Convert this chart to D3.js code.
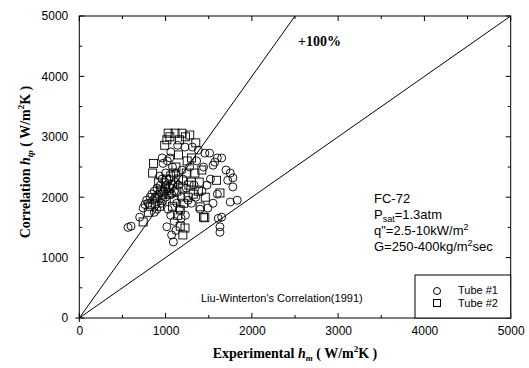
<!DOCTYPE html>
<html><head><meta charset="utf-8">
<script src="https://cdn.jsdelivr.net/npm/d3@7"></script>
<style>body{margin:0;background:#fff}</style>
</head><body>
<svg id="c" width="529" height="368"></svg>
<script>
const xTicks=[0,1000,2000,3000,4000,5000];
const yTicks=[0,1000,2000,3000,4000,5000];
const tube1=[[565,1500],[600,1520],[700,1670],[740,1820],[760,1880],[780,1950],[800,1900],[820,2000],[840,2050],[850,1950],[870,2100],[880,2000],[900,2150],[900,1800],[920,2050],[940,2200],[950,1900],[960,2300],[970,2560],[980,2100],[1000,2400],[1000,2000],[1010,2200],[1020,2600],[1030,1800],[1040,2300],[1050,2650],[1060,1700],[1070,1375],[1080,2500],[1090,1260],[1100,2100],[1100,1600],[1120,2400],[1130,1900],[1140,2860],[1150,2200],[1160,1800],[1180,2000],[1200,2300],[1225,2830],[1240,2150],[1260,1950],[1280,2500],[1310,2830],[1330,2200],[1350,2000],[1380,2780],[1400,1800],[1420,2100],[1455,2730],[1490,1820],[1510,2730],[1520,2300],[1550,2530],[1550,1900],[1570,2580],[1600,2650],[1610,1650],[1630,1510],[1630,1420],[1650,1670],[1720,2280],[1750,2400],[1750,1920],[1780,2320],[1780,2170],[1830,1950],[1015,1510],[1060,2750],[1020,2100],[960,2650],[1650,2650],[1700,2450],[930,2350],[990,2250],[1070,2050],[1110,2250],[1190,2450],[1230,1700],[1300,1900],[1360,2600],[1440,2500],[1480,2200],[870,1750],[1120,1450],[1180,1650],[1600,2050]];
const tube2=[[740,1590],[800,1750],[820,1850],[850,2400],[860,2560],[880,1900],[900,2000],[920,2250],[940,2100],[960,1950],[990,2860],[1000,2150],[1015,2950],[1030,3060],[1040,2050],[1050,3000],[1060,2350],[1080,2200],[1100,1950],[1110,3060],[1120,2500],[1140,1700],[1150,2300],[1170,1790],[1170,1520],[1190,3060],[1200,1375],[1200,2150],[1225,1490],[1240,2400],[1260,2000],[1280,3030],[1300,2250],[1320,2050],[1350,2900],[1380,2100],[1400,1840],[1420,2450],[1440,1670],[1455,1660],[1590,2280],[1630,2070],[1250,2600],[1150,2700],[1300,2650],[970,2050],[1010,2300],[1090,2400],[1130,2100],[1210,1900],[1270,2200],[1340,2400],[1390,2250],[1460,2000],[1160,2950],[1230,3000],[1080,1850],[930,1850],[1050,2150]];

const L=79.3,R=510.7,T=16,B=318;
const x=d3.scaleLinear().domain([0,5000]).range([L,R]);
const y=d3.scaleLinear().domain([0,5000]).range([B,T]);
const svg=d3.select("#c");
const sans="Liberation Sans, Arial, sans-serif", serif="Liberation Serif, Times New Roman, serif";

svg.append("rect").attr("x",L).attr("y",T).attr("width",R-L).attr("height",B-T).attr("fill","none").attr("stroke","#000").attr("stroke-width",1);

const minor=d3.range(0,5001,500);
function ticks(side){
  minor.forEach(v=>{
    const major=v%1000===0, len=major?5:3;
    let x1,y1,x2,y2;
    if(side==="b"){x1=x2=x(v);y1=B;y2=B-len;}
    if(side==="t"){x1=x2=x(v);y1=T;y2=T+len;}
    if(side==="l"){y1=y2=y(v);x1=L;x2=L+len;}
    if(side==="r"){y1=y2=y(v);x1=R;x2=R-len;}
    svg.append("line").attr("x1",x1).attr("y1",y1).attr("x2",x2).attr("y2",y2).attr("stroke","#000");
  });
}
["b","t","l","r"].forEach(ticks);
svg.append("line").attr("x1",L-4).attr("x2",L).attr("y1",B).attr("y2",B).attr("stroke","#000");
svg.append("line").attr("x1",L).attr("x2",L).attr("y1",B).attr("y2",B+4).attr("stroke","#000");

const fmt=d3.format("d");
const xa=svg.append("g").attr("transform",`translate(0,${B})`).call(d3.axisBottom(x).tickValues(xTicks).tickFormat(fmt).tickSize(0).tickPadding(8));
xa.select(".domain").remove();
xa.selectAll("text").attr("font-family",sans).attr("font-size",12).attr("fill","#000");
const ya=svg.append("g").attr("transform",`translate(${L},0)`).call(d3.axisLeft(y).tickValues(yTicks).tickFormat(fmt).tickSize(0).tickPadding(11));
ya.select(".domain").remove();
ya.selectAll("text").attr("font-family",sans).attr("font-size",12).attr("fill","#000");

svg.append("clipPath").attr("id","clp").append("rect").attr("x",L).attr("y",T).attr("width",R-L).attr("height",B-T);
const line=d3.line().x(d=>x(d[0])).y(d=>y(d[1]));
svg.append("path").attr("d",line([[0,0],[5000,5000]])).attr("stroke","#000").attr("fill","none").attr("clip-path","url(#clp)");
svg.append("path").attr("d",line([[0,0],[2500,5000]])).attr("stroke","#000").attr("fill","none").attr("clip-path","url(#clp)");

svg.append("g").selectAll("circle").data(tube1).join("circle")
 .attr("cx",d=>x(d[0])).attr("cy",d=>y(d[1])).attr("r",4).attr("fill","none").attr("stroke","#000").attr("stroke-width",0.9);
svg.append("g").selectAll("rect").data(tube2).join("rect")
 .attr("x",d=>x(d[0])-4).attr("y",d=>y(d[1])-4).attr("width",8).attr("height",8).attr("fill","none").attr("stroke","#000").attr("stroke-width",0.9);

svg.append("text").attr("x",298).attr("y",46).attr("font-family",serif).attr("font-weight","bold").attr("font-size",14).text("+100%");
const ann=svg.append("g").attr("font-family",sans).attr("font-size",13);
ann.append("text").attr("x",374).attr("y",203).text("FC-72");
const p=ann.append("text").attr("x",374).attr("y",219);
p.append("tspan").text("P");p.append("tspan").attr("font-size",9).attr("dy",3).text("sat");p.append("tspan").attr("dy",-3).text("=1.3atm");
const q=ann.append("text").attr("x",374).attr("y",235);
q.append("tspan").text("q\"=2.5-10kW/m");q.append("tspan").attr("font-size",9).attr("dy",-5).text("2");
const gg=ann.append("text").attr("x",374).attr("y",251);
gg.append("tspan").text("G=250-400kg/m");gg.append("tspan").attr("font-size",9).attr("dy",-5).text("2");gg.append("tspan").attr("dy",5).text("sec");

svg.append("text").attr("x",201).attr("y",302).attr("font-family",sans).attr("font-size",11).text("Liu-Winterton's Correlation(1991)");

svg.append("rect").attr("x",415).attr("y",275).attr("width",R-415).attr("height",B-275).attr("fill","#fff").attr("stroke","#000");
svg.append("circle").attr("cx",437).attr("cy",291).attr("r",3.5).attr("fill","none").attr("stroke","#000");
svg.append("rect").attr("x",433.5).attr("y",299.5).attr("width",7).attr("height",7).attr("fill","none").attr("stroke","#000");
svg.append("text").attr("x",458).attr("y",294).attr("font-family",sans).attr("font-size",11).text("Tube #1");
svg.append("text").attr("x",458).attr("y",307).attr("font-family",sans).attr("font-size",11).text("Tube #2");

const xt=svg.append("text").attr("x",295).attr("y",358).attr("text-anchor","middle").attr("font-family",serif).attr("font-weight","bold").attr("font-size",14);
xt.append("tspan").text("Experimental ");
xt.append("tspan").attr("font-style","italic").text("h");
xt.append("tspan").attr("font-style","italic").attr("font-size",9).attr("dy",3).text("m");
xt.append("tspan").attr("dy",-3).text(" ( W/m");
xt.append("tspan").attr("font-size",9).attr("dy",-6).text("2");
xt.append("tspan").attr("dy",6).text("K )");

const yt=svg.append("text").attr("transform","translate(30,162) rotate(-90)").attr("text-anchor","middle").attr("font-family",serif).attr("font-weight","bold").attr("font-size",14);
yt.append("tspan").text("Correlation ");
yt.append("tspan").attr("font-style","italic").text("h");
yt.append("tspan").attr("font-style","italic").attr("font-size",9).attr("dy",3).text("tp");
yt.append("tspan").attr("dy",-3).text(" ( W/m");
yt.append("tspan").attr("font-size",9).attr("dy",-6).text("2");
yt.append("tspan").attr("dy",6).text("K )");
</script>
</body></html>
